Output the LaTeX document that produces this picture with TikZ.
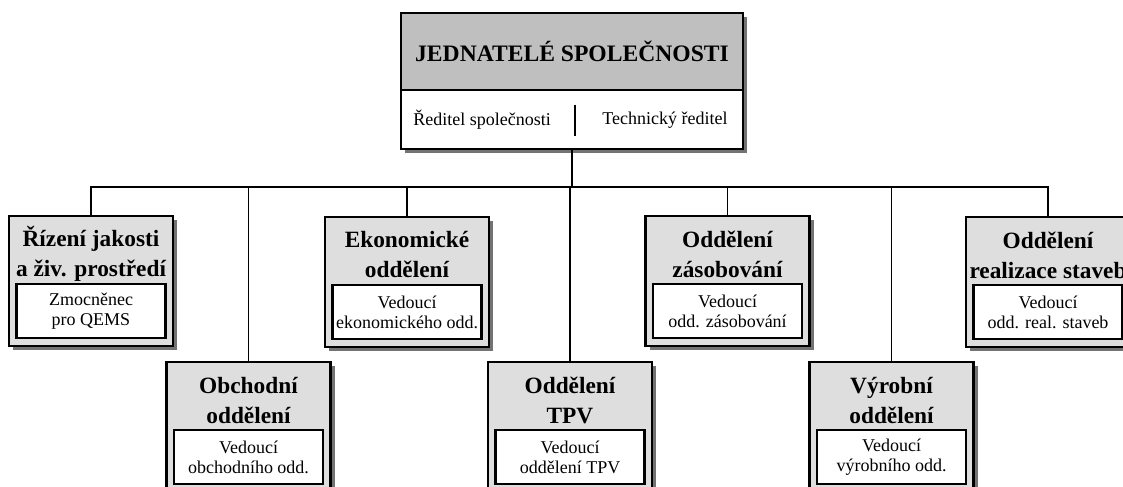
\documentclass[tikz,border=0pt]{standalone}
\usepackage{fontspec}
\setmainfont{Liberation Serif}
\usetikzlibrary{positioning, calc, shadows}

\begin{document}
\begin{tikzpicture}[x=0.75pt, y=-0.75pt,
    ram/.style={draw, line width=1.6pt, inner sep=0pt, outer sep=0pt},
    stin/.style={drop shadow={shadow xshift=3pt, shadow yshift=-3pt, fill=black!55, opacity=1}},
    odd/.style={ram, stin, fill=black!13, minimum width=123pt, minimum height=97.5pt},
    nazev/.style={font=\fontsize{17.5}{22.5}\selectfont\bfseries, align=center, inner sep=0pt},
    vedouci/.style={ram, fill=white, minimum width=111.75pt, minimum height=40.5pt,
      font=\fontsize{13.5}{15}\selectfont, align=center},
    popis/.style={font=\fontsize{13.5}{15}\selectfont},
    spoj/.style={line width=1.3pt}]
  \useasboundingbox (0,0) rectangle (1123,486);
  \clip (0,0) rectangle (1123,486);
  % Jednatele spolecnosti
  \node[ram, stin, fill=black!25, minimum width=256.5pt, minimum height=57.75pt,
    font=\fontsize{17.7}{20}\selectfont\bfseries] (jed) at (572,51.5) {JEDNATELÉ SPOLEČNOSTI};
  \node[ram, stin, fill=white, minimum width=256.5pt, minimum height=44.25pt, below=0pt of jed] (red) {};
  \node[popis] (red1) at (482,120) {Ředitel společnosti};
  \node[popis] (red2) at (665,120) {Technický ředitel};
  \draw[spoj] ($(red.center)+(3,-15)$) -- ($(red.center)+(3,16)$);
  % Horni rada
  \node[odd] (riz) at (91,281) {};
  \node[vedouci, above=6pt of riz.south] (rizv) {Zmocněnec\\pro QEMS};
  \node[nazev] at ($(riz.north)!0.5!(rizv.north)+(0,4)$) {Řízení jakosti\\a živ. prostředí};
  \node[odd] (ekon) at (407,282) {};
  \node[vedouci, above=6pt of ekon.south] (ekonv) {Vedoucí\\ekonomického odd.};
  \node[nazev] at ($(ekon.north)!0.5!(ekonv.north)+(0,4)$) {Ekonomické\\oddělení};
  \node[odd] (zas) at (727.5,281) {};
  \node[vedouci, above=6pt of zas.south] (zasv) {Vedoucí\\odd. zásobování};
  \node[nazev] at ($(zas.north)!0.5!(zasv.north)+(0,4)$) {Oddělení\\zásobování};
  \node[odd] (real) at (1048,282) {};
  \node[vedouci, above=6pt of real.south] (realv) {Vedoucí\\odd. real. staveb};
  \node[nazev] at ($(real.north)!0.5!(realv.north)+(0,4)$) {Oddělení\\realizace staveb};
  % Dolni rada
  \node[odd] (obch) at (248.5,427) {};
  \node[vedouci, above=6pt of obch.south] (obchv) {Vedoucí\\obchodního odd.};
  \node[nazev] at ($(obch.north)!0.5!(obchv.north)+(0,4)$) {Obchodní\\oddělení};
  \node[odd] (tpv) at (570,427) {};
  \node[vedouci, above=6pt of tpv.south] (tpvv) {Vedoucí\\oddělení TPV};
  \node[nazev] at ($(tpv.north)!0.5!(tpvv.north)+(0,4)$) {Oddělení\\TPV};
  \node[odd] (vyr) at (891.5,427) {};
  \node[vedouci, above=6pt of vyr.south] (vyrv) {Vedoucí\\výrobního odd.};
  \node[nazev] at ($(vyr.north)!0.5!(vyrv.north)+(0,4)$) {Výrobní\\oddělení};
  % Spoje
  \draw[spoj] (red.south) -- ++(0,38) coordinate (bus);
  \foreach \o in {riz,ekon,zas,real,obch,tpv,vyr}
    \draw[spoj] (\o.north) |- (bus);
\end{tikzpicture}
\end{document}
